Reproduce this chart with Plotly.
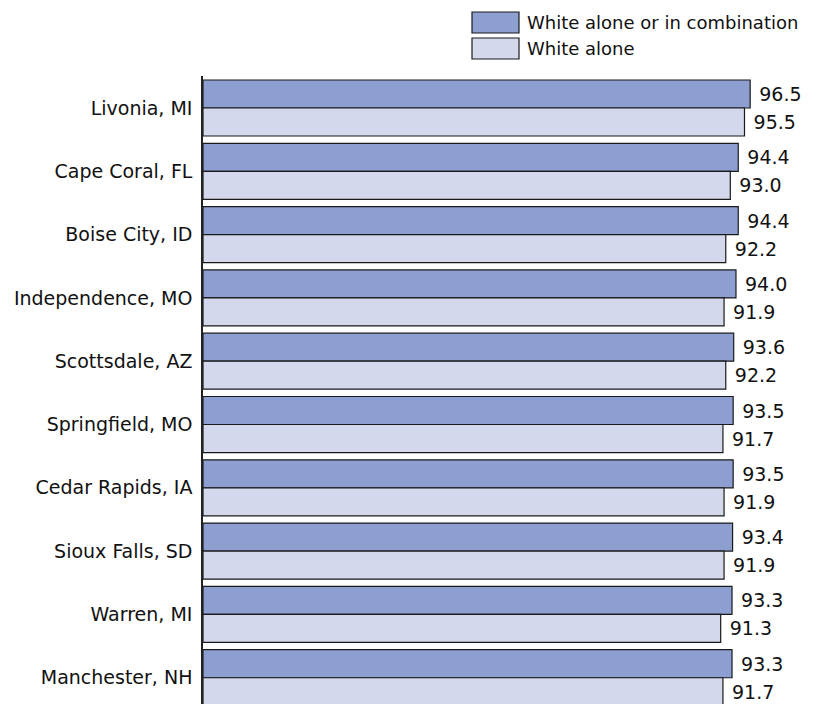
import plotly.graph_objects as go

cities = ["Livonia, MI", "Cape Coral, FL", "Boise City, ID", "Independence, MO",
          "Scottsdale, AZ", "Springfield, MO", "Cedar Rapids, IA", "Sioux Falls, SD",
          "Warren, MI", "Manchester, NH"]
white_combo = [96.5, 94.4, 94.4, 94.0, 93.6, 93.5, 93.5, 93.4, 93.3, 93.3]
white_alone = [95.5, 93.0, 92.2, 91.9, 92.2, 91.7, 91.9, 91.9, 91.3, 91.7]
series_names = ["White alone or in combination", "White alone"]

DARK = "#8c9fd0"
LIGHT = "#d3d8ec"
FONT = "DejaVu Sans"
FS = 19

fig = go.Figure()
for name, vals, col in [(series_names[0], white_combo, DARK), (series_names[1], white_alone, LIGHT)]:
    fig.add_trace(go.Bar(
        y=cities, x=vals, orientation="h", name=name,
        marker=dict(color=col, line=dict(color="#1a1a1a", width=1.2)),
        text=["\u00a0" + f"{v:.1f}" for v in vals], textposition="outside",
        textfont=dict(family=FONT, size=FS, color="#111"),
        cliponaxis=False, showlegend=False,
    ))

OFF = 8
W, H = 819 - OFF, 704 - OFF
L, R, T, B = 203 - OFF, 0, 76 - OFF, 0
PPU = 5.67
fig.update_layout(
    width=W, height=H,
    margin=dict(l=L, r=R, t=T, b=B, pad=0, autoexpand=False),
    barmode="group", bargap=0.115, bargroupgap=0,
    plot_bgcolor="white", paper_bgcolor="white",
    font=dict(family=FONT, size=FS, color="#111"),
    xaxis=dict(range=[0, (W - L - R) / PPU], visible=False),
    yaxis=dict(range=[9.415, -0.5055], showline=True, linecolor="#222", linewidth=1.5,
               ticks="", showgrid=False, ticklabelstandoff=5, automargin=False,
               tickfont=dict(family=FONT, size=FS, color="#111")),
    uniformtext=dict(mode=False),
)

def px2paper_x(px):
    return (px - OFF - L) / (W - L - R)

def py2paper_y(py):
    return 1 - (py - OFF - T) / (H - T - B)

legend_items = [(series_names[0], DARK, 12, 33), (series_names[1], LIGHT, 38, 59)]
for name, col, y0, y1 in legend_items:
    fig.add_shape(type="rect", xref="paper", yref="paper",
                  x0=px2paper_x(472), x1=px2paper_x(519),
                  y0=py2paper_y(y1), y1=py2paper_y(y0),
                  fillcolor=col, line=dict(color="#1a1a1a", width=1.2))
    fig.add_annotation(xref="paper", yref="paper", x=px2paper_x(525),
                       y=py2paper_y((y0 + y1) / 2), text=name, showarrow=False,
                       xanchor="left", yanchor="middle",
                       font=dict(family=FONT, size=18, color="#111"))

fig.write_html("out.html")
